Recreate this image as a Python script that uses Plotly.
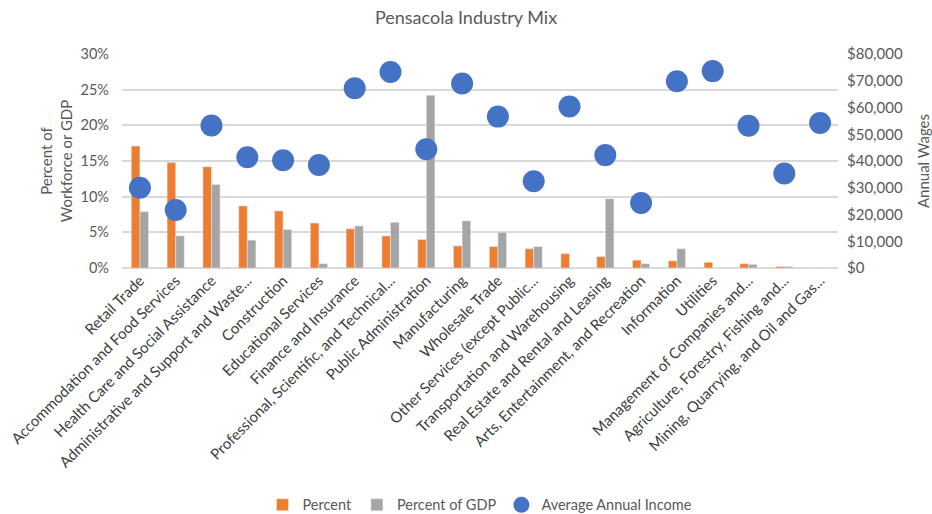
import plotly.graph_objects as go

industries = [
    "Retail Trade",
    "Accommodation and Food Services",
    "Health Care and Social Assistance",
    "Administrative and Support and Waste...",
    "Construction",
    "Educational Services",
    "Finance and Insurance",
    "Professional, Scientific, and Technical...",
    "Public Administration",
    "Manufacturing",
    "Wholesale Trade",
    "Other Services (except Public...",
    "Transportation and Warehousing",
    "Real Estate and Rental and Leasing",
    "Arts, Entertainment, and Recreation",
    "Information",
    "Utilities",
    "Management of Companies and...",
    "Agriculture, Forestry, Fishing and...",
    "Mining, Quarrying, and Oil and Gas...",
]

# Share of workforce
pct_workforce = [0.171, 0.148, 0.142, 0.087, 0.080, 0.063, 0.055, 0.045, 0.040, 0.031,
                 0.030, 0.027, 0.020, 0.016, 0.011, 0.010, 0.008, 0.006, 0.002, 0.0]
# Share of GDP
pct_gdp = [0.079, 0.045, 0.117, 0.039, 0.054, 0.006, 0.059, 0.064, 0.242, 0.066,
           0.050, 0.030, 0.0, 0.097, 0.006, 0.027, 0.0, 0.005, 0.002, 0.0]
# Average annual income (USD)
avg_income = [30000, 21700, 53300, 41400, 40250, 38500, 67200, 73300, 44400, 69000,
              56600, 32400, 60400, 42200, 24300, 69800, 73600, 53200, 35300, 54200]

left_ticks = [0, 0.05, 0.10, 0.15, 0.20, 0.25, 0.30]
right_ticks = [0, 10000, 20000, 30000, 40000, 50000, 60000, 70000, 80000]

FONT = "Lato, Open Sans, sans-serif"
TXT = "#595959"
LBL = "#404040"

fig = go.Figure()
fig.add_trace(go.Bar(x=industries, y=pct_workforce, name="Percent",
                     marker_color="#ED7D31"))
fig.add_trace(go.Bar(x=industries, y=pct_gdp, name="Percent of GDP",
                     marker_color="#A5A5A5"))
fig.add_trace(go.Scatter(x=industries, y=avg_income, name="Average Annual Income",
                         mode="markers", yaxis="y2",
                         marker=dict(color="#4472C4", size=22)))

fig.update_layout(
    width=932, height=514,
    margin=dict(l=122, r=94, t=54, b=246, autoexpand=False),
    paper_bgcolor="white", plot_bgcolor="white",
    font=dict(family=FONT, color=TXT, size=14),
    title=dict(text="Pensacola Industry Mix", x=0.5, xanchor="center",
               y=0.965, yanchor="middle", font=dict(size=18, color=TXT)),
    barmode="group", bargap=0.52, bargroupgap=0,
    showlegend=True,
    legend=dict(orientation="h", x=0.5, xanchor="center", y=-1.107,
                yanchor="middle", itemwidth=30, font=dict(size=14.5, color=TXT)),
    xaxis=dict(tickangle=-45, tickfont=dict(size=15, color=LBL), showgrid=False,
               showline=False, ticks="", range=[-0.5, len(industries) - 0.5]),
    yaxis=dict(range=[0, 0.30], tickvals=left_ticks, tickformat=".0%",
               gridcolor="#d9d9d9", gridwidth=1.5, zeroline=True,
               zerolinecolor="#d9d9d9", zerolinewidth=1.5, ticklabelstandoff=12,
               title=dict(text="Percent of<br>Workforce or GDP", standoff=4,
                          font=dict(size=15, color=TXT)),
               tickfont=dict(size=14.5, color=TXT)),
    yaxis2=dict(range=[0, 80000], tickvals=right_ticks, tickformat="$,",
                overlaying="y", side="right", showgrid=False, zeroline=False,
                ticklabelstandoff=8,
                title=dict(text="Annual Wages", standoff=18, font=dict(size=15, color=TXT)),
                tickfont=dict(size=15, color=TXT)),
)

fig.write_html("out.html")
